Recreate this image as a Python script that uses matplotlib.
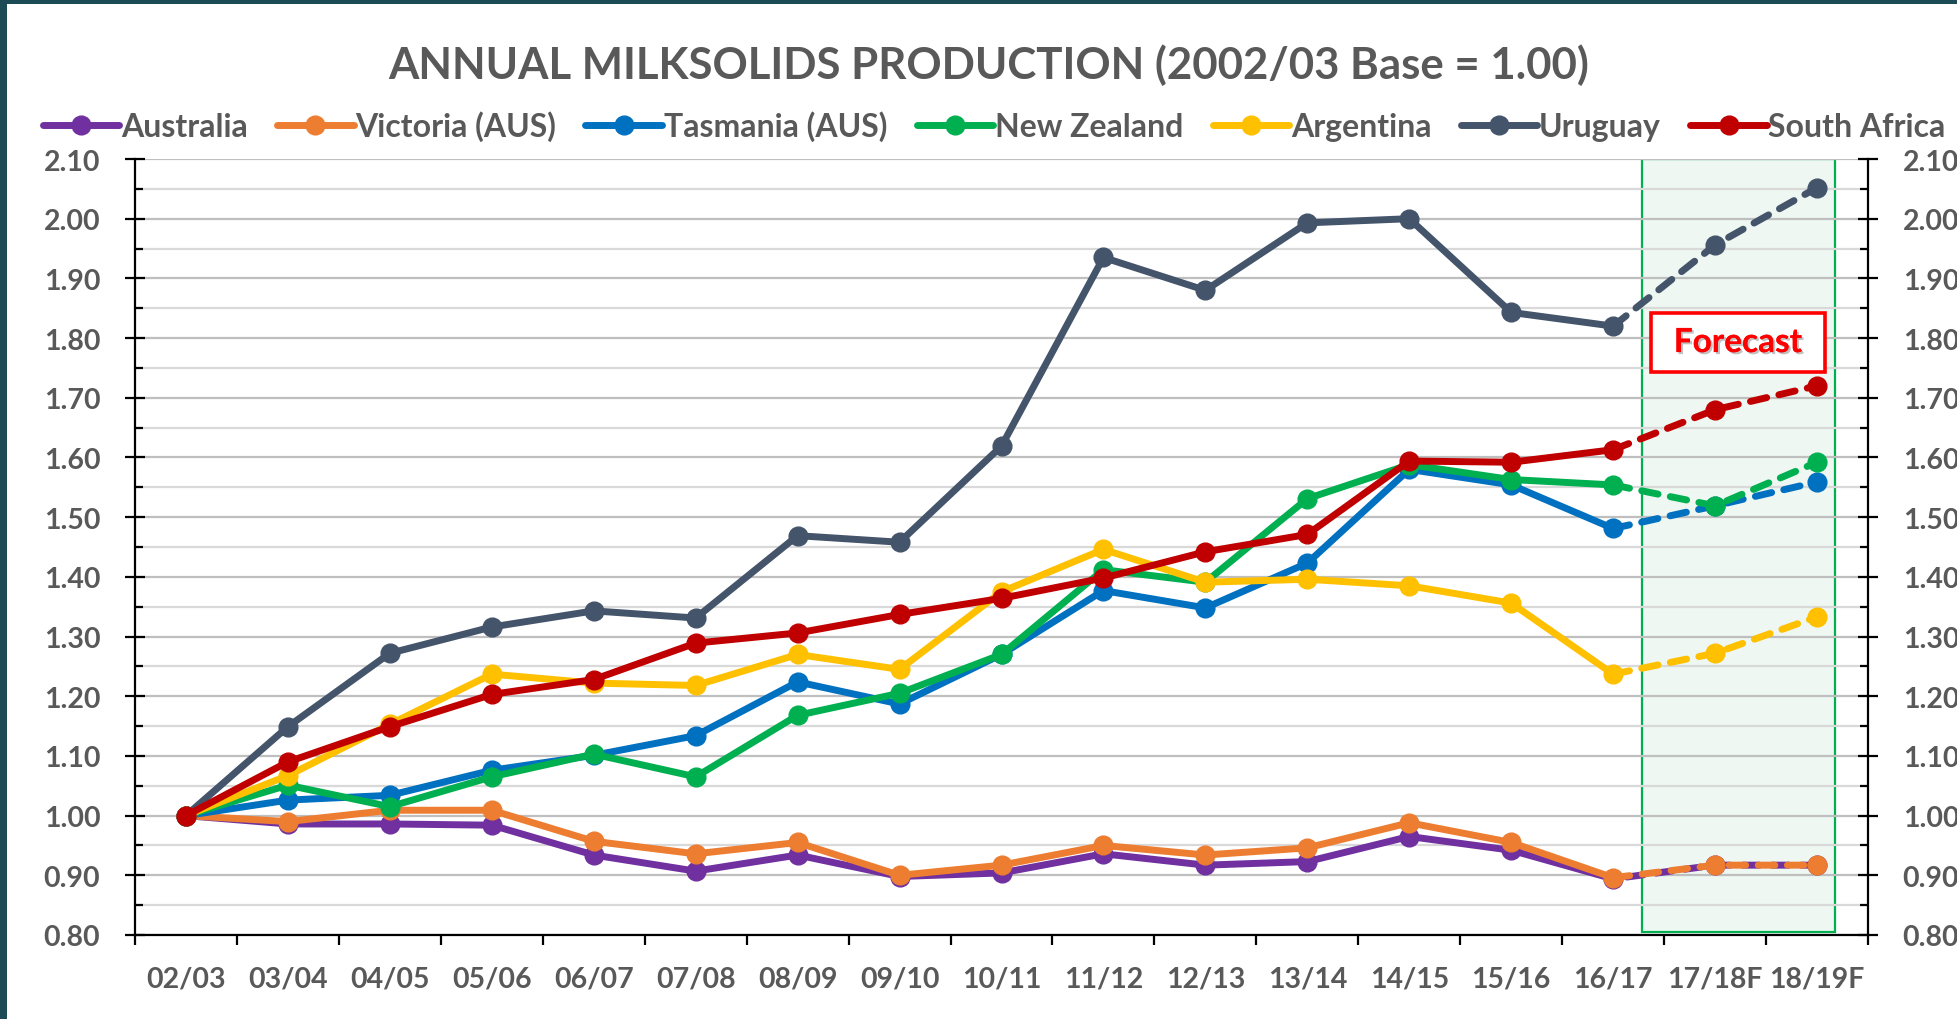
import matplotlib
matplotlib.use("Agg")
import matplotlib.pyplot as plt
from matplotlib.patches import Rectangle
import matplotlib.patheffects as pe
from matplotlib.ticker import MultipleLocator, FixedLocator, NullFormatter, FixedFormatter

plt.rcParams['font.family'] = ['Lato', 'DejaVu Sans']

categories = ["02/03", "03/04", "04/05", "05/06", "06/07", "07/08", "08/09", "09/10",
              "10/11", "11/12", "12/13", "13/14", "14/15", "15/16", "16/17", "17/18F", "18/19F"]

australia = [1.00, 0.986, 0.986, 0.984, 0.934, 0.907, 0.934, 0.898, 0.904, 0.936, 0.917,
             0.923, 0.965, 0.942, 0.894, 0.917, 0.917]
victoria = [1.00, 0.990, 1.009, 1.009, 0.957, 0.936, 0.955, 0.900, 0.917, 0.950, 0.934,
            0.946, 0.988, 0.955, 0.896, 0.917, 0.917]
tasmania = [1.00, 1.026, 1.034, 1.076, 1.101, 1.134, 1.224, 1.187, 1.270, 1.377, 1.348,
            1.423, 1.580, 1.554, 1.481, 1.519, 1.559]
new_zealand = [1.00, 1.051, 1.015, 1.065, 1.103, 1.065, 1.168, 1.205, 1.270, 1.412, 1.391,
               1.531, 1.588, 1.563, 1.554, 1.519, 1.592]
argentina = [1.00, 1.067, 1.153, 1.237, 1.222, 1.218, 1.270, 1.245, 1.375, 1.446, 1.391,
             1.396, 1.385, 1.356, 1.237, 1.272, 1.333]
uruguay = [1.00, 1.149, 1.272, 1.316, 1.343, 1.331, 1.469, 1.458, 1.619, 1.935, 1.880,
           1.993, 2.000, 1.843, 1.820, 1.956, 2.052]
south_africa = [1.00, 1.090, 1.149, 1.203, 1.228, 1.289, 1.306, 1.337, 1.364, 1.398, 1.442,
                1.471, 1.594, 1.592, 1.613, 1.680, 1.720]

series_names = ["Australia", "Victoria (AUS)", "Tasmania (AUS)", "New Zealand",
                "Argentina", "Uruguay", "South Africa"]
series_values = [australia, victoria, tasmania, new_zealand, argentina, uruguay, south_africa]
series_colors = ["#7030A0", "#ED7D31", "#0070C0", "#00B050", "#FFC000", "#44546A", "#C00000"]
dash_offsets = [2.2, 0, 0, 0, 0, 0, 0]

n_actual = 15  # 02/03 .. 16/17 are actual; last two are forecasts
title = "ANNUAL MILKSOLIDS PRODUCTION (2002/03 Base = 1.00)"
forecast_label = "Forecast"

TEXT = "#595959"
LW = 5.0
MS = 13.5

fig = plt.figure(figsize=(19.57, 10.20), dpi=100)
fig.patch.set_facecolor("white")
ax = fig.add_axes([135/1957, 1-936/1020, (1868-135)/1957, (936-160)/1020])
ax.set_facecolor("white")

x = list(range(len(categories)))

# forecast shaded region
ax.add_patch(Rectangle((14.28, 0.805), 16.18-14.28, 2.10-0.805, facecolor="#EEF7F1",
                       edgecolor="#00B050", linewidth=1.6, zorder=1))

handles = []
for name, vals, col, off in zip(series_names, series_values, series_colors, dash_offsets):
    h, = ax.plot(x[:n_actual], vals[:n_actual], color=col, lw=LW, marker="o", ms=MS,
                 solid_capstyle="round", solid_joinstyle="round", zorder=3, label=name)
    ax.plot(x[n_actual-1:], vals[n_actual-1:], color=col, lw=LW, marker="o", ms=MS,
            markevery=[1, 2], linestyle=(off, (2.4, 1.8)), dash_capstyle="round", zorder=3)
    handles.append(h)

ax.set_xlim(-0.5, len(categories)-0.5)
ax.set_ylim(0.80, 2.10)

# y axis ticks
ax.yaxis.set_major_locator(MultipleLocator(0.10))
ax.yaxis.set_minor_locator(MultipleLocator(0.05))
ax.yaxis.set_major_formatter(matplotlib.ticker.FormatStrFormatter("%.2f"))
ax.grid(True, which="major", axis="y", color="#BFBFBF", lw=1.6)
ax.grid(True, which="minor", axis="y", color="#D9D9D9", lw=1.6)
ax.set_axisbelow(False)

ax.tick_params(axis="y", which="major", direction="inout", length=14, width=1.6,
               left=True, right=True, labelleft=True, labelright=True,
               labelsize=20.5, labelcolor=TEXT, pad=18)
ax.tick_params(axis="y", which="minor", direction="in", length=6, width=1.6,
               left=True, right=True)
for lbl in ax.get_yticklabels():
    lbl.set_fontweight("bold")

# x axis: boundary ticks (major) + centred labels (minor)
ax.xaxis.set_major_locator(FixedLocator([i - 0.5 for i in range(len(categories)+1)]))
ax.xaxis.set_major_formatter(NullFormatter())
ax.xaxis.set_minor_locator(FixedLocator(x))
ax.xaxis.set_minor_formatter(FixedFormatter(categories))
ax.tick_params(axis="x", which="major", direction="out", length=7, width=1.6)
ax.tick_params(axis="x", which="minor", length=0, pad=22, labelsize=20.5, labelcolor=TEXT)
for lbl in ax.get_xticklabels(minor=True):
    lbl.set_fontweight("bold")

for side in ["left", "right", "bottom"]:
    ax.spines[side].set_color("black")
    ax.spines[side].set_linewidth(1.6)
    ax.spines[side].set_zorder(4)
ax.spines["top"].set_visible(False)

# forecast label box + text
ax.add_patch(Rectangle((14.37, 1.743), 16.08-14.37, 1.842-1.743, facecolor="white",
                       edgecolor="#FF0000", linewidth=2.6, zorder=5))
ax.text((14.37+16.08)/2, (1.743+1.842)/2, forecast_label, ha="center", va="center",
        fontsize=24, fontweight="bold", color="#FF0000", zorder=6,
        path_effects=[pe.withSimplePatchShadow(offset=(1.5, -1.5), shadow_rgbFace="#999999", alpha=0.6),
                      pe.Normal()])

fig.text(0.505, 1-65/1020, title, ha="center", va="center", fontsize=31.5,
         fontweight="bold", color=TEXT)

leg = fig.legend(handles=handles, loc="center", bbox_to_anchor=(0.508, 1-127/1020), ncol=7,
                 frameon=False, fontsize=23, handlelength=2.4, handletextpad=0.05,
                 columnspacing=0.92, borderaxespad=0)
for t in leg.get_texts():
    t.set_color(TEXT)
    t.set_fontweight("bold")

# dark border strips (left and top)
fig.patches.append(Rectangle((0, 0), 7/1957, 1, transform=fig.transFigure,
                             facecolor="#1C4B55", edgecolor="none", zorder=10))
fig.patches.append(Rectangle((0, 1-5/1020), 1, 5/1020, transform=fig.transFigure,
                             facecolor="#1C4B55", edgecolor="none", zorder=10))

fig.savefig("out.png", dpi=100, facecolor="white")
